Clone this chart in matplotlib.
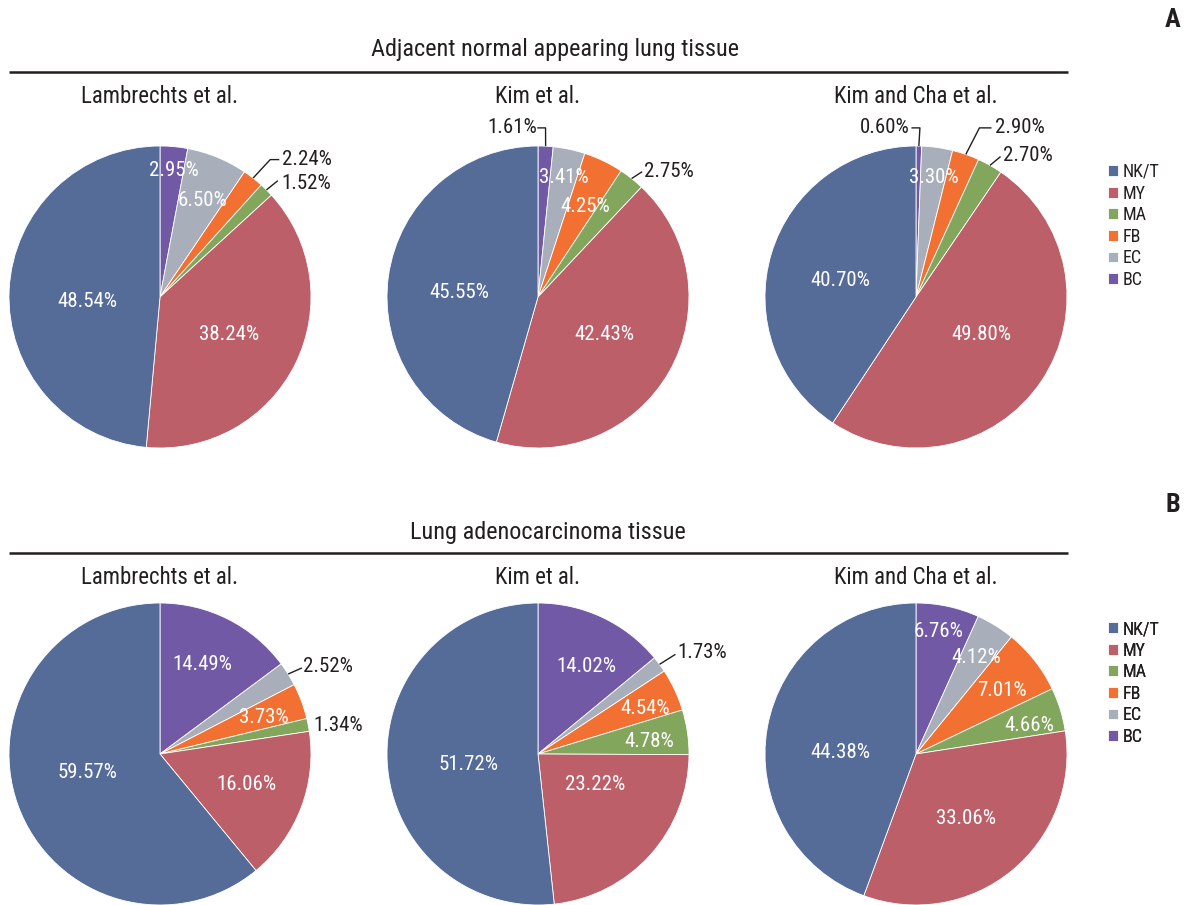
import numpy as np
import matplotlib.pyplot as plt

plt.rcParams['font.family'] = ['Roboto Condensed', 'Liberation Sans Narrow', 'Liberation Sans', 'DejaVu Sans']

W, H = 1187, 905          # canvas size in pixels, axes use the same units
R = 151                   # pie radius in pixels
INK = '#231f20'

cell_types = ["NK/T", "MY", "MA", "FB", "EC", "BC"]
colors = ['#556b98', '#bc5f69', '#82a65c', '#f27132', '#a8afba', '#7159a6']
studies = ["Lambrechts et al.", "Kim et al.", "Kim and Cha et al."]
sections = ["Adjacent normal appearing lung tissue", "Lung adenocarcinoma tissue"]
panel_tags = ["A", "B"]

# cell type shares (%), same order as cell_types
normal_lambrechts = [48.54, 38.24, 1.52, 2.24, 6.50, 2.95]
normal_kim = [45.55, 42.43, 2.75, 4.25, 3.41, 1.61]
normal_kim_cha = [40.70, 49.80, 2.70, 2.90, 3.30, 0.60]
tumor_lambrechts = [59.57, 16.06, 1.34, 3.73, 2.52, 14.49]
tumor_kim = [51.72, 23.22, 4.78, 4.54, 1.73, 14.02]
tumor_kim_cha = [44.38, 33.06, 4.66, 7.01, 4.12, 6.76]

# label placement, in pie radii from the centre (x right, y up), per cell type
# keys of `outside` get a dark label, with leader waypoints if any
layouts = [
    dict(cx=160, cy=297, values=normal_lambrechts,
         pos=[(-0.48, -0.03), (0.46, -0.25), (0.97, 0.75), (0.97, 0.91), (0.28, 0.64), (0.09, 0.84)],
         outside={2: [(0.78, 0.77)], 3: [(0.73, 0.91), (0.79, 0.91)]}),
    dict(cx=538, cy=297, values=normal_kim,
         pos=[(-0.52, 0.03), (0.44, -0.25), (0.87, 0.83), (0.31, 0.60), (0.17, 0.79), (-0.17, 1.12)],
         outside={2: [(0.69, 0.83)], 5: [(0.05, 1.12), (-0.005, 1.12)]}),
    dict(cx=916, cy=297, values=normal_kim_cha,
         pos=[(-0.50, 0.11), (0.43, -0.25), (0.74, 0.94), (0.69, 1.12), (0.12, 0.79), (-0.205, 1.12)],
         outside={2: [(0.56, 0.93)], 3: [(0.42, 1.12), (0.50, 1.12)], 5: [(0.026, 1.12), (-0.03, 1.12)]}),
    dict(cx=160, cy=754, values=tumor_lambrechts,
         pos=[(-0.48, -0.12), (0.57, -0.20), (1.18, 0.19), (0.69, 0.24), (1.11, 0.58), (0.28, 0.59)],
         outside={2: [], 4: [(0.94, 0.57)]}),
    dict(cx=538, cy=754, values=tumor_kim,
         pos=[(-0.46, -0.07), (0.38, -0.20), (0.74, 0.08), (0.71, 0.30), (1.09, 0.67), (0.32, 0.58)],
         outside={4: [(0.91, 0.66)]}),
    dict(cx=916, cy=754, values=tumor_kim_cha,
         pos=[(-0.50, 0.01), (0.33, -0.43), (0.75, 0.19), (0.57, 0.42), (0.40, 0.64), (0.15, 0.81)],
         outside={}),
]

fig = plt.figure(figsize=(W / 100, H / 100), dpi=100)
ax = fig.add_axes([0, 0, 1, 1])

wedges = None
for i, lay in enumerate(layouts):
    cx, cy = lay['cx'], H - lay['cy']
    vals = np.array(lay['values'])
    # wedges run clockwise from 12 o'clock, starting with BC
    wedges, _ = ax.pie(vals[::-1], colors=colors[::-1], startangle=90, counterclock=False,
                       center=(cx, cy), radius=R, frame=True,
                       wedgeprops=dict(edgecolor='white', linewidth=0.6))
    wedges = wedges[::-1]
    fracs = vals / vals.sum()
    start = np.concatenate([[0], np.cumsum(fracs[::-1])[:-1]])[::-1]
    mid = (start + fracs / 2) * 2 * np.pi
    for k, v in enumerate(vals):
        fx, fy = lay['pos'][k]
        if k in lay['outside']:
            pts = [(cx + R * np.sin(mid[k]), cy + R * np.cos(mid[k]))]
            pts += [(cx + R * px, cy + R * py) for px, py in lay['outside'][k]]
            if len(pts) > 1:
                xs, ys = zip(*pts)
                ax.plot(xs, ys, color=INK, lw=1.0, solid_capstyle='butt')
            color = INK
        else:
            color = 'white'
        ax.text(cx + R * fx, cy + R * fy, f"{v:.2f}%", color=color, fontsize=15,
                ha='center', va='center')
    ax.text(cx, H - (97 if i < 3 else 577), studies[i % 3], fontsize=16.5, color=INK,
            ha='center', va='center')

# section headers, rules, panel tags and legends (pixel rows from the top)
header_y = [50, 532]
rule_y = [72, 553]
tag_y = [20, 505]
legend_top = [163, 620]
for s, (title, tag) in enumerate(zip(sections, panel_tags)):
    ax.text(555 if s == 0 else 548, H - header_y[s], title, fontsize=17.5, color=INK,
            ha='center', va='center')
    ax.plot([9, 1068], [H - rule_y[s], H - rule_y[s]], color=INK, lw=1.8,
            solid_capstyle='butt')
    ax.text(1173, H - tag_y[s], tag, fontsize=19, fontweight='bold', color=INK,
            ha='center', va='center')

    leg = ax.legend(wedges, cell_types, loc='upper left',
                    bbox_to_anchor=(1108, H - legend_top[s]), bbox_transform=ax.transData,
                    frameon=False, fontsize=13, handlelength=0.55, handleheight=0.55,
                    handletextpad=0.25, labelspacing=0.2, borderpad=0, borderaxespad=0)
    for t in leg.get_texts():
        t.set_color(INK)
    ax.add_artist(leg)

ax.set_xlim(0, W)
ax.set_ylim(0, H)
ax.set_aspect('equal')
ax.axis('off')

fig.savefig('out.png', dpi=100)
